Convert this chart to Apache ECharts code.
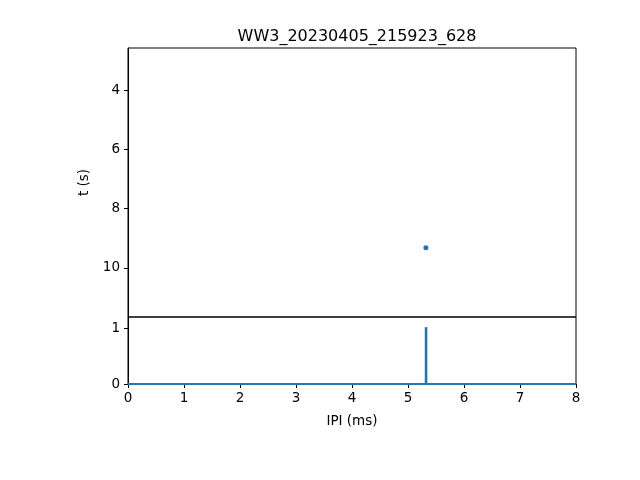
<!DOCTYPE html>
<html><head><meta charset="utf-8">
<script src="https://cdn.jsdelivr.net/npm/echarts@6/dist/echarts.min.js"></script>
<style>html,body{margin:0;padding:0;background:#fff}#c{width:640px;height:480px}</style>
</head><body><div id="c"></div>
<script>
var title = 'WW3_20230405_215923_628';
var ipi = [5.32];
var times = [9.32];
var binLeft = [0, 5.31, 5.335];
var binRight = [5.31, 5.335, 8];
var binCounts = [0, 1, 0];
var xTicks = [0,1,2,3,4,5,6,7,8];

var font = 'DejaVu Sans';
var chart = echarts.init(document.getElementById('c'));
chart.setOption({
  animation: false,
  title: {text: title, left: 352, top: 24, textAlign: 'center',
    textStyle: {fontFamily: font, fontSize: 16, fontWeight: 'normal', color: '#000'}},
  grid: [
    {left: 128, top: 48, width: 448, height: 269, show: true, borderColor: '#000', borderWidth: 1, backgroundColor: 'transparent'},
    {left: 128, top: 317, width: 448, height: 67, show: true, borderColor: '#000', borderWidth: 1, backgroundColor: 'transparent'}
  ],
  xAxis: [
    {gridIndex: 0, type: 'value', min: 0, max: 8, interval: 1, axisLine: {show: false}, axisTick: {show: false}, axisLabel: {show: false}, splitLine: {show: false}},
    {gridIndex: 1, type: 'value', min: 0, max: 8, interval: 1, name: 'IPI (ms)', nameLocation: 'middle', nameGap: 30,
      nameTextStyle: {fontFamily: font, fontSize: 13.5, color: '#000'},
      axisLine: {show: true, onZero: false, lineStyle: {color: '#000'}},
      axisTick: {show: true, length: 4, lineStyle: {color: '#000'}},
      axisLabel: {fontFamily: font, fontSize: 13.5, color: '#000', margin: 7},
      splitLine: {show: false}}
  ],
  yAxis: [
    {gridIndex: 0, type: 'value', inverse: true, min: 2.58, max: 11.66, name: 't (s)', nameLocation: 'middle', nameGap: 33, nameRotate: 90,
      nameTextStyle: {fontFamily: font, fontSize: 13.5, color: '#000'},
      axisLine: {show: true, lineStyle: {color: '#000'}},
      axisTick: {show: true, length: 4, lineStyle: {color: '#000'}, customValues: [4,6,8,10]},
      axisLabel: {fontFamily: font, fontSize: 13.5, color: '#000', margin: 8, customValues: [4,6,8,10]},
      splitLine: {show: false}},
    {gridIndex: 1, type: 'value', min: 0, max: 1.2,
      axisLine: {show: true, lineStyle: {color: '#000'}},
      axisTick: {show: true, length: 4, lineStyle: {color: '#000'}, customValues: [0,1]},
      axisLabel: {fontFamily: font, fontSize: 13.5, color: '#000', margin: 8, customValues: [0,1]},
      splitLine: {show: false}}
  ],
  series: [
    {type: 'scatter', xAxisIndex: 0, yAxisIndex: 0, symbolSize: 5, itemStyle: {color: '#1f77b4', opacity: 1},
      data: ipi.map(function(v, i){ return [v, times[i]]; })},
    {type: 'custom', xAxisIndex: 1, yAxisIndex: 1,
      data: binCounts.map(function(c, i){ return [binLeft[i], binRight[i], c]; }),
      renderItem: function(params, api) {
        var p0 = api.coord([api.value(0), 0]);
        var p1 = api.coord([api.value(1), api.value(2)]);
        var x0 = p0[0], x1 = p1[0];
        var y0 = p0[1], y1 = p1[1];
        if (x1 - x0 < 2.6) { var m = (x0 + x1) / 2; x0 = m - 1.3; x1 = m + 1.3; }
        var h = Math.max(y0 - y1, 0) + 2;
        return {type: 'rect', shape: {x: x0, y: y1 - 1, width: x1 - x0, height: h},
          style: {fill: '#1f77b4'}};
      }}
  ]
});
</script></body></html>
